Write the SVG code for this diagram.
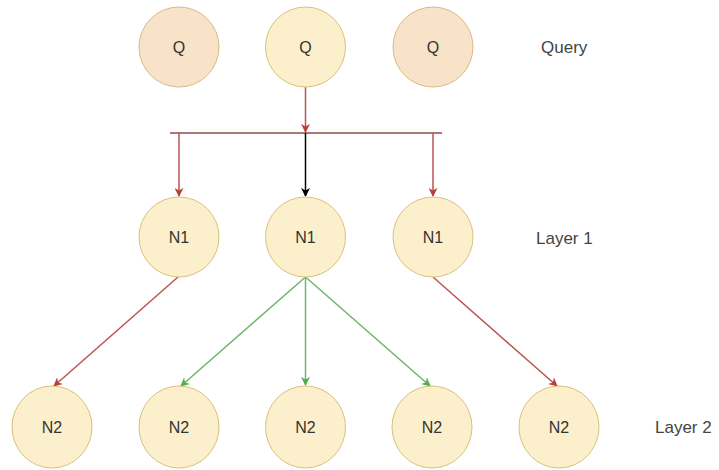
<svg xmlns="http://www.w3.org/2000/svg" width="719" height="470" viewBox="0 0 719 470">
<defs>
<style>
.peach{fill:#f8e2c8;stroke:#d8b98a;stroke-width:1}
.yel{fill:#fcf0cc;stroke:#d9c07e;stroke-width:1}
.t{font-family:"Liberation Sans",Arial,sans-serif;font-size:16px;fill:#333;text-anchor:middle;dominant-baseline:central}
.lbl{font-family:"Liberation Sans",Arial,sans-serif;font-size:17px;fill:#444;dominant-baseline:central}
.red{stroke:#b85450;stroke-width:1.5;fill:none}
.grn{stroke:#6fb56c;stroke-width:1.5;fill:none}
.blk{stroke:#000;stroke-width:1.5;fill:none}
</style>
<marker id="mr" viewBox="0 0 10 10" refX="9" refY="5" markerWidth="9" markerHeight="9" orient="auto" markerUnits="userSpaceOnUse"><path d="M0,0 L10,5 L0,10 L3,5 Z" fill="#b8403a"/></marker>
<marker id="mg" viewBox="0 0 10 10" refX="9" refY="5" markerWidth="9" markerHeight="9" orient="auto" markerUnits="userSpaceOnUse"><path d="M0,0 L10,5 L0,10 L3,5 Z" fill="#4caf50"/></marker>
<marker id="mb" viewBox="0 0 10 10" refX="9" refY="5" markerWidth="9" markerHeight="9" orient="auto" markerUnits="userSpaceOnUse"><path d="M0,0 L10,5 L0,10 L3,5 Z" fill="#000"/></marker>
</defs>
<rect width="719" height="470" fill="#fff"/>
<g id="connectors">
<path class="red" d="M305.5,87 V132" marker-end="url(#mr)"/>
<path d="M170,133 H442" stroke="#8f4a4a" stroke-width="1.5" fill="none"/>
<path class="red" d="M179,133 V196" marker-end="url(#mr)"/>
<path class="blk" d="M305.5,133 V196" marker-end="url(#mb)"/>
<path class="red" d="M433,133 V196" marker-end="url(#mr)"/>
<path class="red" d="M178,277 L54,386" marker-end="url(#mr)"/>
<path class="grn" d="M305.5,277 L181,386" marker-end="url(#mg)"/>
<path class="grn" d="M305.5,277 V385" marker-end="url(#mg)"/>
<path class="grn" d="M305.5,277 L430,386" marker-end="url(#mg)"/>
<path class="red" d="M433,277 L557,386" marker-end="url(#mr)"/>
</g>
<g id="q1"><circle class="peach" cx="179" cy="47" r="40"/><text class="t" x="179" y="47">Q</text></g>
<g id="q2"><circle class="yel" cx="305.5" cy="47" r="40"/><text class="t" x="305.5" y="47">Q</text></g>
<g id="q3"><circle class="peach" cx="433" cy="47" r="40"/><text class="t" x="433" y="47">Q</text></g>
<g id="n1a"><circle class="yel" cx="179" cy="237" r="40"/><text class="t" x="179" y="237">N1</text></g>
<g id="n1b"><circle class="yel" cx="305.5" cy="237" r="40"/><text class="t" x="305.5" y="237">N1</text></g>
<g id="n1c"><circle class="yel" cx="433" cy="237" r="40"/><text class="t" x="433" y="237">N1</text></g>
<g id="n2a"><ellipse class="yel" cx="52" cy="427" rx="40" ry="41"/><text class="t" x="52" y="427">N2</text></g>
<g id="n2b"><ellipse class="yel" cx="179" cy="427" rx="40" ry="41"/><text class="t" x="179" y="427">N2</text></g>
<g id="n2c"><ellipse class="yel" cx="305.5" cy="427" rx="40" ry="41"/><text class="t" x="305.5" y="427">N2</text></g>
<g id="n2d"><ellipse class="yel" cx="432" cy="427" rx="40" ry="41"/><text class="t" x="432" y="427">N2</text></g>
<g id="n2e"><ellipse class="yel" cx="559" cy="427" rx="40" ry="41"/><text class="t" x="559" y="427">N2</text></g>
<g id="labels">
<text class="lbl" x="541" y="47">Query</text>
<text class="lbl" x="536" y="238">Layer 1</text>
<text class="lbl" x="655" y="427">Layer 2</text>
</g>
</svg>
